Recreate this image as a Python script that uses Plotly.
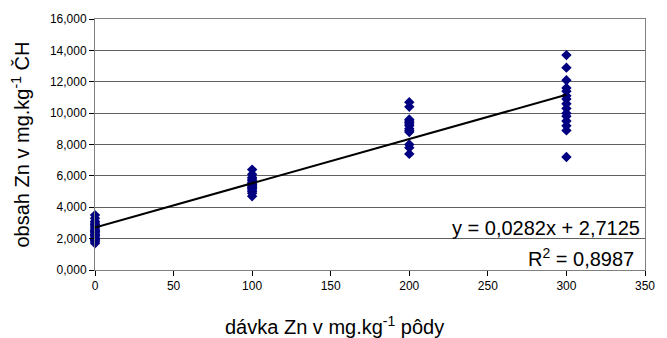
import plotly.graph_objects as go

# dose groups (x) and measured Zn content (y, in thousands)
dose_0 = [1.70, 1.80, 1.90, 1.95, 2.00, 2.10, 2.20, 2.25, 2.30, 2.40, 2.45, 2.50, 2.60, 2.70, 2.80, 2.90, 3.00, 3.10, 3.30, 3.50]
dose_100 = [4.70, 4.90, 5.00, 5.10, 5.20, 5.25, 5.30, 5.40, 5.45, 5.50, 5.60, 5.70, 5.80, 5.90, 6.10, 6.40]
dose_200 = [7.40, 7.80, 8.00, 8.80, 8.90, 9.00, 9.20, 9.30, 9.40, 9.50, 9.60, 10.40, 10.70]
dose_300 = [7.20, 8.90, 9.20, 9.50, 9.80, 10.00, 10.30, 10.60, 10.90, 11.10, 11.40, 11.60, 12.10, 12.90, 13.70]
group_doses = [0, 100, 200, 300]

slope = 0.0282
intercept = 2.7125
r_squared = 0.8987

y_tick_vals = [0, 2, 4, 6, 8, 10, 12, 14, 16]
y_tick_text = ["0,000", "2,000", "4,000", "6,000", "8,000", "10,000", "12,000", "14,000", "16,000"]
x_tick_vals = [0, 50, 100, 150, 200, 250, 300, 350]

xs, ys = [], []
for d, vals in zip(group_doses, [dose_0, dose_100, dose_200, dose_300]):
    xs += [d] * len(vals)
    ys += vals

font = "Liberation Sans, Arial, sans-serif"
fig = go.Figure()
fig.add_trace(go.Scatter(x=xs, y=ys, mode="markers",
                         marker=dict(symbol="diamond", size=8, color="#000080",
                                     line=dict(width=0)),
                         showlegend=False, cliponaxis=False))
line_x = [min(group_doses), max(group_doses)]
fig.add_trace(go.Scatter(x=line_x, y=[slope * v + intercept for v in line_x],
                         mode="lines", line=dict(color="black", width=2),
                         showlegend=False))

fig.add_annotation(x=1, y=2.66, xref="paper", yref="y", xanchor="right", yanchor="middle",
                   text="y = 0,0282x + 2,7125", showarrow=False,
                   font=dict(family=font, size=20, color="black"), xshift=-3)
fig.add_annotation(x=1, y=0.8, xref="paper", yref="y", xanchor="right", yanchor="middle",
                   text="R<sup>2</sup> = 0,8987", showarrow=False,
                   font=dict(family=font, size=20, color="black"), xshift=-9)

# axis titles
fig.add_annotation(x=0, y=0.5, xref="paper", yref="paper", xanchor="center", yanchor="middle",
                   text="obsah Zn v mg.kg<sup>-1</sup> ČH", textangle=-90, showarrow=False,
                   font=dict(family=font, size=20, color="black"), xshift=-75)
fig.add_annotation(x=0.436, y=0, xref="paper", yref="paper", xanchor="center", yanchor="middle",
                   text="dávka Zn v mg.kg<sup>-1</sup> pôdy", showarrow=False,
                   font=dict(family=font, size=20, color="black"), yshift=-55)

fig.update_layout(
    width=667, height=338,
    margin=dict(l=95, r=15, t=17, b=68),
    paper_bgcolor="white", plot_bgcolor="white",
    font=dict(family=font, size=12, color="black"),
    xaxis=dict(range=[0, 350], tickvals=x_tick_vals, showgrid=False,
               ticks="outside", ticklen=5, tickcolor="black",
               showline=True, linecolor="#808080", linewidth=1, mirror=True,
               zeroline=False),
    yaxis=dict(range=[0, 16], tickvals=y_tick_vals, ticktext=y_tick_text,
               showgrid=True, gridcolor="#606060", gridwidth=1,
               ticks="outside", ticklen=5, tickcolor="black",
               showline=True, linecolor="#808080", linewidth=1, mirror=True,
               zeroline=False),
)

fig.write_html("out.html")
